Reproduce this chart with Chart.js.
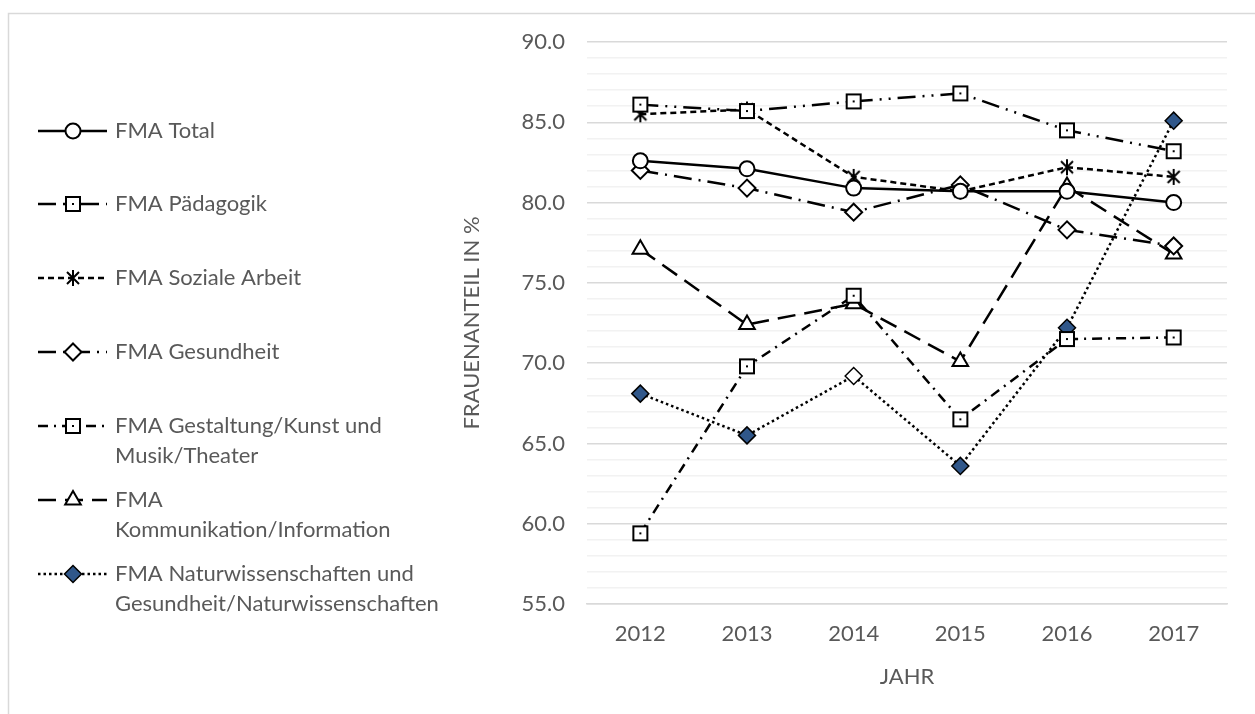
<!DOCTYPE html>
<html>
<head>
<meta charset="utf-8">
<script src="https://cdn.jsdelivr.net/npm/chart.js@4.4.1/dist/chart.umd.min.js"></script>
<style>
  body { margin: 0; background: #fff; }
</style>
</head>
<body>
<canvas id="grafico" width="1255" height="714"></canvas>
<script>
// Daten
const jahre = ["2012", "2013", "2014", "2015", "2016", "2017"];
const serienNamen = [
  "FMA Total",
  "FMA Pädagogik",
  "FMA Soziale Arbeit",
  "FMA Gesundheit",
  "FMA Gestaltung/Kunst und Musik/Theater",
  "FMA Kommunikation/Information",
  "FMA Naturwissenschaften und Gesundheit/Naturwissenschaften",
];
const fmaTotal = [82.6, 82.1, 80.9, 80.7, 80.7, 80.0];
const fmaPaedagogik = [86.1, 85.7, 86.3, 86.8, 84.5, 83.2];
const fmaSozialeArbeit = [85.5, 85.8, 81.6, 80.7, 82.2, 81.6];
const fmaGesundheit = [82.0, 80.9, 79.4, 81.1, 78.3, 77.3];
const fmaGestaltung = [59.4, 69.8, 74.2, 66.5, 71.5, 71.6];
const fmaKommunikation = [77.1, 72.4, 73.7, 70.1, 81.0, 76.8];
const fmaNatur = [68.1, 65.5, 69.2, 63.6, 72.2, 85.1];
const yBeschriftung = [55, 60, 65, 70, 75, 80, 85, 90];

const grau = "#595959";
const schrift = "Lato";
const blau = "#30578A";

// eigene Marker (Quadrat mit Punkt, Stern)
function markerQuadrat() {
  const c = document.createElement("canvas");
  c.width = 18; c.height = 18;
  const g = c.getContext("2d");
  g.fillStyle = "#fff";
  g.fillRect(2, 2, 14, 14);
  g.strokeStyle = "#000";
  g.lineWidth = 2;
  g.strokeRect(2, 2, 14, 14);
  g.fillStyle = "#000";
  g.fillRect(8, 8, 2, 2);
  return c;
}
function markerStern() {
  const c = document.createElement("canvas");
  c.width = 18; c.height = 18;
  const g = c.getContext("2d");
  g.strokeStyle = "#000";
  g.lineWidth = 2;
  g.beginPath();
  g.moveTo(3, 3); g.lineTo(15, 15);
  g.moveTo(15, 3); g.lineTo(3, 15);
  g.moveTo(9, 1); g.lineTo(9, 17);
  g.stroke();
  return c;
}
const quadrat = markerQuadrat();
const stern = markerStern();

function serie(label, data, dash, style, radius, extra) {
  return Object.assign({
    label: label,
    data: data,
    borderColor: "#000",
    borderWidth: 2.5,
    borderDash: dash,
    pointStyle: style,
    pointRadius: radius,
    pointHoverRadius: radius,
    pointBackgroundColor: "#fff",
    pointBorderColor: "#000",
    pointBorderWidth: 2,
    tension: 0,
    fill: false,
  }, extra || {});
}

const datasets = [
  serie(serienNamen[0], fmaTotal, [], "circle", 7.5),
  serie(serienNamen[1], fmaPaedagogik, [18, 7, 2, 7, 2, 7], quadrat, 9),
  serie(serienNamen[2], fmaSozialeArbeit, [6, 4], stern, 9),
  serie(serienNamen[3], fmaGesundheit, [18, 7, 2, 7], "rectRot", 8.5),
  serie(serienNamen[4], fmaGestaltung, [10, 6, 2, 6], quadrat, 9),
  serie(serienNamen[5], fmaKommunikation, [18, 9], "triangle", 9),
  serie(serienNamen[6], fmaNatur, [2.5, 3], "rectRot", 8.5, {
    pointBackgroundColor: fmaNatur.map((v, i) => (i === 2 ? "#fff" : blau)),
    pointBorderWidth: 1.5,
  }),
];

// Marker für die Legende nachzeichnen
function zeichneMarker(ctx, ds, x, y) {
  const st = ds.pointStyle;
  const r = ds.pointRadius;
  if (st instanceof HTMLCanvasElement) {
    ctx.drawImage(st, x - st.width / 2, y - st.height / 2);
    return;
  }
  const bg = Array.isArray(ds.pointBackgroundColor) ? ds.pointBackgroundColor[0] : ds.pointBackgroundColor;
  ctx.fillStyle = bg;
  ctx.strokeStyle = "#000";
  ctx.lineWidth = ds.pointBorderWidth;
  ctx.beginPath();
  if (st === "circle") {
    ctx.arc(x, y, r, 0, Math.PI * 2);
  } else if (st === "rectRot") {
    ctx.moveTo(x, y - r); ctx.lineTo(x + r, y); ctx.lineTo(x, y + r); ctx.lineTo(x - r, y);
    ctx.closePath();
  } else if (st === "triangle") {
    ctx.moveTo(x, y - r);
    ctx.lineTo(x + r * Math.cos(Math.PI / 6), y + r / 2);
    ctx.lineTo(x - r * Math.cos(Math.PI / 6), y + r / 2);
    ctx.closePath();
  }
  ctx.fill();
  ctx.stroke();
}

function umbrechen(ctx, text, maxBreite) {
  const woerter = text.split(" ");
  const zeilen = [];
  let akt = "";
  woerter.forEach((w) => {
    const test = akt ? akt + " " + w : w;
    if (akt && ctx.measureText(test).width > maxBreite) {
      zeilen.push(akt);
      akt = w;
    } else {
      akt = test;
    }
  });
  if (akt) zeilen.push(akt);
  return zeilen;
}

const legendePlugin = {
  id: "legende",
  beforeDraw(chart) {
    const ctx = chart.ctx;
    ctx.save();
    ctx.fillStyle = "#fff";
    ctx.fillRect(0, 0, chart.width, chart.height);
    ctx.strokeStyle = "#D9D9D9";
    ctx.lineWidth = 1.5;
    ctx.strokeRect(8.5, 13.5, 1400, 900);
    ctx.restore();
  },
  afterDraw(chart) {
    const ctx = chart.ctx;
    const zeilenY = [131, 204, 278, 352, 426, 500, 574];
    ctx.save();
    ctx.font = "22px " + schrift;
    ctx.textBaseline = "middle";
    chart.data.datasets.forEach((ds, i) => {
      const y = zeilenY[i];
      ctx.strokeStyle = "#000";
      ctx.lineWidth = ds.borderWidth;
      ctx.setLineDash(ds.borderDash);
      ctx.beginPath();
      ctx.moveTo(38, y);
      ctx.lineTo(107, y);
      ctx.stroke();
      ctx.setLineDash([]);
      zeichneMarker(ctx, ds, 73, y);
      ctx.fillStyle = grau;
      umbrechen(ctx, ds.label, 312).forEach((z, k) => ctx.fillText(z, 115, y + k * 30));
    });
    ctx.restore();
  },
};

new Chart(document.getElementById("grafico"), {
  type: "line",
  data: { labels: jahre, datasets: datasets },
  options: {
    responsive: false,
    animation: false,
    layout: { padding: { left: 455, right: 28, top: 42, bottom: 0 } },
    plugins: {
      legend: { display: false },
      tooltip: { enabled: false },
    },
    scales: {
      x: {
        offset: true,
        grid: { display: false, drawTicks: false },
        border: { display: true, color: "#D9D9D9", width: 1.5 },
        ticks: { color: grau, font: { family: schrift, size: 22 }, padding: 17 },
        title: { display: true, text: "JAHR", color: grau, font: { family: schrift, size: 22 }, padding: { top: 0, bottom: 24 } },
        afterFit: (scale) => { scale.height = 110; },
      },
      y: {
        min: 55,
        max: 90,
        border: { display: false },
        grid: {
          drawTicks: false,
          lineWidth: 1.5,
          color: (c) => (yBeschriftung.includes(c.tick.value) ? "#D9D9D9" : "#F2F2F2"),
        },
        ticks: {
          stepSize: 1,
          autoSkip: false,
          color: grau,
          font: { family: schrift, size: 22 },
          padding: 22,
          callback: (v) => (yBeschriftung.includes(v) ? v.toFixed(1) : ""),
        },
        title: { display: true, text: "FRAUENANTEIL IN %", color: grau, font: { family: schrift, size: 22 }, padding: { top: 4, bottom: 0 } },
        afterFit: (scale) => { scale.width = 132; },
      },
    },
  },
  plugins: [legendePlugin],
});
</script>
</body>
</html>
